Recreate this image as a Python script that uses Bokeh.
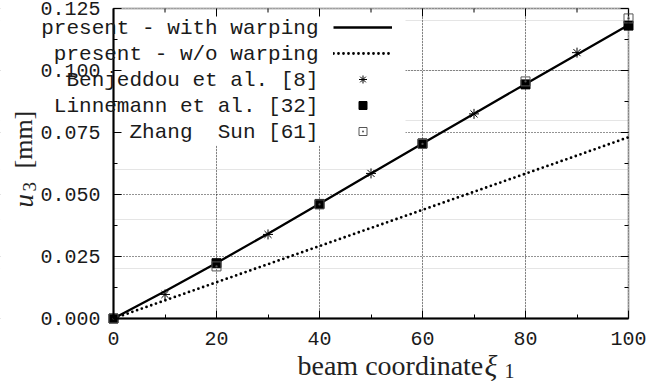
import math
from bokeh.plotting import figure
from bokeh.models import (Range1d, FixedTicker, LinearAxis, Label, BoxAnnotation,
                          Legend, LegendItem, Grid, PrintfTickFormatter)
from bokeh.embed import file_html
from bokeh.resources import INLINE

# ---------------- data ----------------
xi_curve = [0, 10, 20, 30, 40, 50, 60, 70, 80, 90, 100]
u3_with_warping = [0.0, 0.0110, 0.0224, 0.0342, 0.0463, 0.0585, 0.0706, 0.0826, 0.0946, 0.1065, 0.1183]
u3_without_warping = [0.0, 0.0073, 0.0146, 0.0219, 0.0292, 0.0365, 0.0438, 0.0511, 0.0584, 0.0657, 0.0731]

xi_benjeddou = [10, 30, 50, 70, 90]
u3_benjeddou = [0.0097, 0.0339, 0.0585, 0.0825, 0.1072]

xi_linnemann = [0, 20, 40, 60, 80, 100]
u3_linnemann = [0.0, 0.0223, 0.0462, 0.0706, 0.0944, 0.1181]

xi_zhang = [0, 20, 40, 60, 80, 100]
u3_zhang = [0.0, 0.0210, 0.0460, 0.0704, 0.0956, 0.1210]

x_ticks = [0, 20, 40, 60, 80, 100]
x_minor_ticks = [10, 30, 50, 70, 90]
y_ticks = [0.0, 0.025, 0.05, 0.075, 0.1, 0.125]
y_minor_ticks = [0.0125, 0.0375, 0.0625, 0.0875, 0.1125]

legend_labels = ["present - with warping", "present - w/o warping",
                 "Benjeddou et al. [8]", "Linnemann et al. [32]", "Zhang \u00a0Sun [61]"]

MONO = "Liberation Mono"
SERIF = "Liberation Serif"
INK = "#1a1a1a"
TITLE_INK = "#222222"

# ---------------- layout ----------------
W, H = 652, 381
XMIN, XMAX, YMIN, YMAX = 0, 100, 0.0, 0.125
# pixel box of the data area inside the canvas
BOX_L, BOX_R, BOX_T, BOX_B = 113, 628, 8, 318
sx = (BOX_R - BOX_L) / (XMAX - XMIN)      # px per x unit
sy = (BOX_B - BOX_T) / (YMAX - YMIN)      # px per y unit
x_range = Range1d(XMIN - BOX_L / sx, XMAX + (W - BOX_R) / sx)
y_range = Range1d(YMIN - (H - BOX_B) / sy, YMAX + BOX_T / sy)

# the frame spans the whole canvas so that texts outside the data box are not clipped
p = figure(width=W, height=H, x_range=x_range, y_range=y_range,
           output_backend="svg", toolbar_location=None,
           x_axis_location=None, y_axis_location=None,
           min_border=0, min_border_left=0, min_border_right=0,
           min_border_top=0, min_border_bottom=0)
p.outline_line_color = None
p.background_fill_color = "white"
p.border_fill_color = "white"


def make_axis(ticks, minor, fixed, bounds, fmt=None, standoff=12):
    ax = LinearAxis(ticker=FixedTicker(ticks=ticks, minor_ticks=minor),
                    fixed_location=fixed, bounds=bounds)
    ax.axis_line_color = "black"
    ax.axis_line_width = 2
    ax.major_tick_in = 8
    ax.major_tick_out = 0
    ax.minor_tick_in = 4
    ax.minor_tick_out = 0
    ax.major_tick_line_color = "black"
    ax.minor_tick_line_color = "black"
    ax.major_tick_line_width = 1
    ax.minor_tick_line_width = 1
    ax.major_label_text_font = MONO
    ax.major_label_text_font_size = "20px"
    ax.major_label_text_color = INK
    ax.major_label_standoff = standoff
    if fmt is not None:
        ax.formatter = fmt
    return ax


for dim, ticks in ((0, x_ticks), (1, y_ticks)):
    g = Grid(dimension=dim, ticker=FixedTicker(ticks=ticks))
    g.grid_line_color = "black"
    g.grid_line_dash = "1 2"
    g.grid_line_width = 1
    g.grid_line_alpha = 0.85
    p.add_layout(g)

# white covers: keep the grid inside the data box, and hide it behind the key (as in gnuplot)
pad_x, pad_y = 20 / sx, 20 / sy
X_LO, X_HI = x_range.start - pad_x, x_range.end + pad_x
Y_LO, Y_HI = y_range.start - pad_y, y_range.end + pad_y
covers = [
    dict(left=X_LO, right=XMIN, bottom=Y_LO, top=Y_HI),
    dict(left=XMAX, right=X_HI, bottom=Y_LO, top=Y_HI),
    dict(left=X_LO, right=X_HI, bottom=Y_LO, top=YMIN),
    dict(left=X_LO, right=X_HI, bottom=YMAX, top=Y_HI),
    dict(left=XMIN, right=56.7, bottom=0.0698, top=YMAX),   # key area
]
for c in covers:
    p.add_layout(BoxAnnotation(**c, fill_color="white", fill_alpha=1.0,
                               line_color=None, level="underlay"))

p.add_layout(make_axis(y_ticks, y_minor_ticks, XMIN, (YMIN, YMAX),
                       PrintfTickFormatter(format="%.3f"), 13), "left")
p.add_layout(make_axis(x_ticks, x_minor_ticks, YMIN, (XMIN, XMAX), None, 13), "below")

# border of the data box
p.add_layout(BoxAnnotation(left=XMIN, right=XMAX, bottom=YMIN, top=YMAX,
                           fill_alpha=0, line_color="black", line_width=2))

# mirrored inward ticks on the top and right borders
tick_dy_major, tick_dy_minor = 8 / sy, 4 / sy
tick_dx_major, tick_dx_minor = 8 / sx, 4 / sx
p.segment(x0=x_ticks, y0=[YMAX] * len(x_ticks), x1=x_ticks,
          y1=[YMAX - tick_dy_major] * len(x_ticks), line_color="black", line_width=1)
p.segment(x0=x_minor_ticks, y0=[YMAX] * len(x_minor_ticks), x1=x_minor_ticks,
          y1=[YMAX - tick_dy_minor] * len(x_minor_ticks), line_color="black", line_width=1)
p.segment(x0=[XMAX] * len(y_ticks), y0=y_ticks, x1=[XMAX - tick_dx_major] * len(y_ticks),
          y1=y_ticks, line_color="black", line_width=1)
p.segment(x0=[XMAX] * len(y_minor_ticks), y0=y_minor_ticks,
          x1=[XMAX - tick_dx_minor] * len(y_minor_ticks), y1=y_minor_ticks,
          line_color="black", line_width=1)

# ---------------- series ----------------
r_with = p.line(xi_curve, u3_with_warping, line_color="black", line_width=2.3)
r_wo = p.line(xi_curve, u3_without_warping, line_color="black", line_width=2.8,
              line_dash="0 5", line_cap="round")
r_benj = p.scatter(xi_benjeddou, u3_benjeddou, marker="asterisk", size=10,
                   line_color="black", line_width=1)
r_linn = p.scatter(xi_linnemann, u3_linnemann, marker="square", size=9,
                   fill_color="black", line_color="black")
r_zhang = p.scatter(xi_zhang, u3_zhang, marker="square_dot", size=9,
                    fill_color=None, line_color="#555555", line_width=1)

# key samples (library legend; the entry texts are drawn to their left, gnuplot style)
legend = Legend(items=[LegendItem(label=" ", renderers=[r]) for r in
                       (r_with, r_wo, r_benj, r_linn, r_zhang)],
                location=(333, 240), orientation="vertical",
                glyph_width=59, glyph_height=20, label_height=20, label_width=0,
                label_standoff=0, spacing=6, padding=0, margin=0,
                border_line_color=None, background_fill_alpha=0,
                label_text_font_size="1px", click_policy="none")
p.add_layout(legend)

for i, t in enumerate(legend_labels):
    p.add_layout(Label(x=XMIN, y=YMAX, x_offset=205, y_offset=-(20 + 26 * i), text=t,
                       text_align="right", text_baseline="middle",
                       text_font=MONO, text_font_size="21px", text_color=INK))

# x axis title: beam coordinate ξ1
p.add_layout(Label(x=XMIN, y=YMIN, x_offset=184, y_offset=-47, text="beam coordinate",
                   text_align="left", text_baseline="middle",
                   text_font=SERIF, text_font_size="28px", text_color=TITLE_INK))
p.add_layout(Label(x=XMIN, y=YMIN, x_offset=371, y_offset=-47, text="ξ",
                   text_align="left", text_baseline="middle", text_font_style="italic",
                   text_font=SERIF, text_font_size="30px", text_color=TITLE_INK))
p.add_layout(Label(x=XMIN, y=YMIN, x_offset=391, y_offset=-52, text="1",
                   text_align="left", text_baseline="middle",
                   text_font=SERIF, text_font_size="20px", text_color=TITLE_INK))

# y axis title: u3 [mm] (rotated, reading upwards)
p.add_layout(Label(x=XMIN, y=YMIN, x_offset=-90, y_offset=111, text="u", angle=math.pi / 2,
                   text_align="left", text_baseline="middle", text_font_style="italic",
                   text_font=SERIF, text_font_size="27px", text_color=TITLE_INK))
p.add_layout(Label(x=XMIN, y=YMIN, x_offset=-84, y_offset=127, text="3", angle=math.pi / 2,
                   text_align="left", text_baseline="middle",
                   text_font=SERIF, text_font_size="19px", text_color=TITLE_INK))
p.add_layout(Label(x=XMIN, y=YMIN, x_offset=-90, y_offset=150, text="[mm]", angle=math.pi / 2,
                   text_align="left", text_baseline="middle",
                   text_font=SERIF, text_font_size="26px", text_color=TITLE_INK))

open("out.html", "w").write(file_html(p, INLINE))
